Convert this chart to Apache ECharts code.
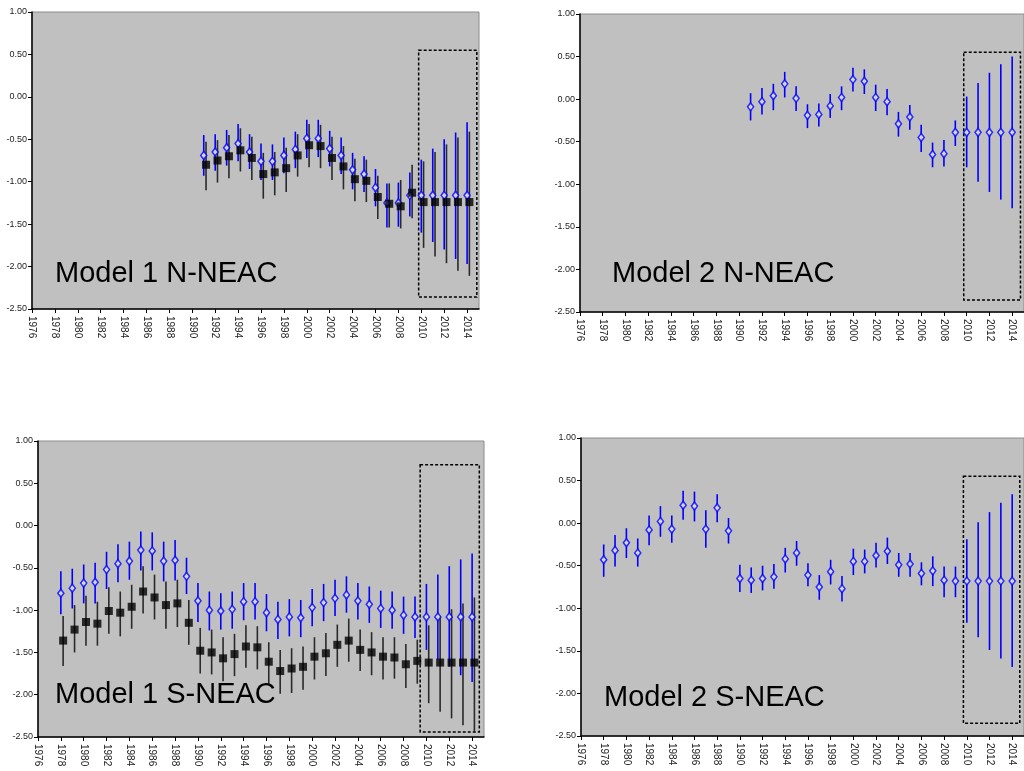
<!DOCTYPE html>
<html>
<head>
<meta charset="utf-8">
<script src="https://cdn.jsdelivr.net/npm/echarts@6/dist/echarts.min.js"></script>
<style>
  html, body { margin: 0; padding: 0; background: #ffffff; }
  #chart { width: 1024px; height: 771px; }
</style>
</head>
<body>
<div id="chart"></div>
<script>
// Axis ticks shared by all four panels
const tickYears = [1976, 1978, 1980, 1982, 1984, 1986, 1988, 1990, 1992, 1994, 1996, 1998,
  2000, 2002, 2004, 2006, 2008, 2010, 2012, 2014];
const yTickValues = [1.0, 0.5, 0.0, -0.5, -1.0, -1.5, -2.0, -2.5];

// Model 1 N-NEAC (1991-2014): blue estimate and black estimate with intervals
const m1nYears = [1991, 1992, 1993, 1994, 1995, 1996, 1997, 1998, 1999, 2000, 2001, 2002,
  2003, 2004, 2005, 2006, 2007, 2008, 2009, 2010, 2011, 2012, 2013, 2014];
const m1nBlueMid = [-0.69, -0.65, -0.60, -0.55, -0.65, -0.76, -0.76, -0.69, -0.62, -0.49, -0.49, -0.61,
  -0.69, -0.86, -0.91, -1.07, -1.25, -1.25, -1.16, -1.16, -1.16, -1.16, -1.16, -1.16];
const m1nBlueHi = [-0.45, -0.44, -0.39, -0.32, -0.44, -0.55, -0.56, -0.48, -0.41, -0.27, -0.27, -0.40,
  -0.48, -0.66, -0.70, -0.85, -1.02, -1.01, -0.89, -0.74, -0.61, -0.50, -0.42, -0.30];
const m1nBlueLo = [-0.93, -0.87, -0.81, -0.76, -0.85, -0.98, -0.98, -0.90, -0.84, -0.72, -0.71, -0.82,
  -0.91, -1.09, -1.12, -1.29, -1.54, -1.53, -1.41, -1.60, -1.71, -1.80, -1.91, -1.97];
const m1nBlackMid = [-0.80, -0.75, -0.70, -0.63, -0.72, -0.91, -0.89, -0.84, -0.69, -0.57, -0.58, -0.72,
  -0.82, -0.97, -0.99, -1.18, -1.26, -1.29, -1.13, -1.24, -1.24, -1.24, -1.24, -1.24];
const m1nBlackHi = [-0.53, -0.51, -0.45, -0.37, -0.47, -0.66, -0.65, -0.60, -0.44, -0.32, -0.33, -0.47,
  -0.58, -0.73, -0.74, -0.93, -1.02, -0.98, -0.80, -0.76, -0.65, -0.56, -0.48, -0.41];
const m1nBlackLo = [-1.10, -1.01, -0.96, -0.88, -0.98, -1.20, -1.16, -1.12, -0.94, -0.83, -0.84, -0.98,
  -1.09, -1.23, -1.24, -1.44, -1.54, -1.55, -1.43, -1.78, -1.88, -1.96, -2.05, -2.11];

// Model 2 N-NEAC (1991-2014)
const m2nYears = m1nYears;
const m2nMid = [-0.09, -0.03, 0.04, 0.18, 0.01, -0.19, -0.18, -0.08, 0.02, 0.23, 0.21, 0.02,
  -0.03, -0.29, -0.21, -0.45, -0.65, -0.64, -0.39, -0.39, -0.39, -0.39, -0.39, -0.39];
const m2nHi = [0.07, 0.13, 0.18, 0.32, 0.15, -0.06, -0.05, 0.06, 0.15, 0.37, 0.35, 0.17,
  0.12, -0.15, -0.07, -0.30, -0.51, -0.48, -0.25, 0.03, 0.19, 0.31, 0.41, 0.50];
const m2nLo = [-0.25, -0.18, -0.13, 0.02, -0.14, -0.34, -0.32, -0.22, -0.13, 0.09, 0.06, -0.14,
  -0.19, -0.44, -0.36, -0.62, -0.80, -0.79, -0.55, -0.80, -0.97, -1.09, -1.18, -1.28];

// Model 1 S-NEAC (1978-2014)
const sYears = [1978, 1979, 1980, 1981, 1982, 1983, 1984, 1985, 1986, 1987, 1988, 1989,
  1990, 1991, 1992, 1993, 1994, 1995, 1996, 1997, 1998, 1999,
  2000, 2001, 2002, 2003, 2004, 2005, 2006, 2007, 2008, 2009,
  2010, 2011, 2012, 2013, 2014];
const m1sBlueMid = [-0.80, -0.74, -0.68, -0.67, -0.52, -0.45, -0.42, -0.29, -0.30, -0.42, -0.41, -0.60,
  -0.89, -1.00, -1.01, -0.99, -0.90, -0.90, -1.03, -1.11, -1.08, -1.09,
  -0.97, -0.91, -0.86, -0.82, -0.89, -0.93, -0.98, -1.00, -1.06, -1.08,
  -1.08, -1.08, -1.08, -1.08, -1.08];
const m1sBlueHi = [-0.54, -0.51, -0.46, -0.44, -0.31, -0.22, -0.19, -0.07, -0.08, -0.19, -0.17, -0.38,
  -0.68, -0.78, -0.80, -0.78, -0.68, -0.68, -0.81, -0.90, -0.87, -0.88,
  -0.75, -0.69, -0.64, -0.60, -0.68, -0.72, -0.77, -0.78, -0.84, -0.84,
  -0.69, -0.58, -0.48, -0.40, -0.33];
const m1sBlueLo = [-1.05, -0.98, -0.92, -0.92, -0.75, -0.67, -0.64, -0.53, -0.53, -0.66, -0.65, -0.81,
  -1.14, -1.24, -1.23, -1.22, -1.12, -1.11, -1.25, -1.34, -1.31, -1.32,
  -1.19, -1.13, -1.07, -1.03, -1.11, -1.15, -1.21, -1.22, -1.28, -1.33,
  -1.47, -1.58, -1.67, -1.77, -1.85];
const m1sBlackMid = [-1.36, -1.23, -1.14, -1.16, -1.01, -1.03, -0.96, -0.78, -0.85, -0.94, -0.92, -1.15,
  -1.48, -1.50, -1.57, -1.52, -1.43, -1.44, -1.61, -1.72, -1.69, -1.67,
  -1.55, -1.51, -1.41, -1.36, -1.47, -1.50, -1.55, -1.56, -1.64, -1.60,
  -1.62, -1.62, -1.62, -1.62, -1.62];
const m1sBlackHi = [-1.07, -0.94, -0.83, -0.90, -0.73, -0.78, -0.70, -0.48, -0.58, -0.66, -0.64, -0.88,
  -1.21, -1.23, -1.32, -1.28, -1.18, -1.19, -1.38, -1.47, -1.45, -1.43,
  -1.32, -1.27, -1.17, -1.10, -1.23, -1.26, -1.32, -1.32, -1.40, -1.35,
  -1.18, -1.07, -0.99, -0.92, -0.85];
const m1sBlackLo = [-1.66, -1.50, -1.42, -1.42, -1.28, -1.31, -1.22, -1.04, -1.11, -1.22, -1.20, -1.41,
  -1.75, -1.76, -1.84, -1.78, -1.68, -1.70, -1.87, -1.99, -1.98, -1.94,
  -1.82, -1.78, -1.67, -1.61, -1.72, -1.77, -1.82, -1.81, -1.92, -1.87,
  -2.10, -2.20, -2.28, -2.36, -2.45];

// Model 2 S-NEAC (1978-2014)
const m2sMid = [-0.43, -0.32, -0.23, -0.35, -0.08, 0.02, -0.07, 0.21, 0.20, -0.07, 0.18, -0.09,
  -0.65, -0.67, -0.65, -0.63, -0.42, -0.35, -0.61, -0.75, -0.57, -0.77,
  -0.45, -0.45, -0.38, -0.33, -0.49, -0.48, -0.59, -0.56, -0.67, -0.68,
  -0.68, -0.68, -0.68, -0.68, -0.68];
const m2sHi = [-0.25, -0.14, -0.06, -0.18, 0.09, 0.20, 0.09, 0.38, 0.37, 0.15, 0.34, 0.06,
  -0.49, -0.52, -0.50, -0.48, -0.29, -0.21, -0.47, -0.61, -0.43, -0.62,
  -0.30, -0.31, -0.23, -0.17, -0.35, -0.35, -0.46, -0.39, -0.51, -0.51,
  -0.19, 0.01, 0.13, 0.24, 0.34];
const m2sLo = [-0.63, -0.51, -0.41, -0.51, -0.26, -0.16, -0.23, 0.04, 0.02, -0.29, 0.01, -0.24,
  -0.81, -0.82, -0.79, -0.77, -0.58, -0.50, -0.74, -0.90, -0.72, -0.92,
  -0.61, -0.59, -0.52, -0.48, -0.63, -0.63, -0.73, -0.74, -0.87, -0.87,
  -1.17, -1.34, -1.49, -1.59, -1.69];

// Projection windows (years, values) outlined with a dashed box
const m1nWindow = [[2009.77, 0.55], [2014.85, -2.36]];
const m2nWindow = [[2009.74, 0.55], [2014.73, -2.36]];
const m1sWindow = [[2009.45, 0.72], [2014.63, -2.44]];
const m2sWindow = [[2009.70, 0.55], [2014.67, -2.35]];

const panelTitles = ['Model 1 N-NEAC', 'Model 2 N-NEAC', 'Model 1 S-NEAC', 'Model 2 S-NEAC'];

const BLUE = '#0000ff';
const BLACK_OFFSET = 0.2; // the black estimate sits just right of the blue one

const chart = echarts.init(document.getElementById('chart'), null, { renderer: 'canvas' });

const gridBoxes = [
  { left: 32, top: 12, width: 447, height: 297 },
  { left: 580, top: 14, width: 447, height: 298 },
  { left: 38, top: 441, width: 446, height: 296 },
  { left: 581, top: 438, width: 447, height: 298 }
];

const labelFont = '"Liberation Sans Narrow", "Arial Narrow", "Liberation Sans", Arial, sans-serif';

function intervalData(years, lo, hi, shift) {
  return years.map((y, i) => [y + shift, lo[i], hi[i]]);
}
function pointData(years, mid, shift) {
  return years.map((y, i) => [y + shift, mid[i]]);
}

function whiskerSeries(idx, data, color, width) {
  return {
    type: 'custom',
    xAxisIndex: idx, yAxisIndex: idx,
    data: data,
    encode: { x: 0, y: [1, 2] },
    silent: true,
    renderItem: function (params, api) {
      const x = api.value(0);
      const a = api.coord([x, api.value(1)]);
      const b = api.coord([x, api.value(2)]);
      return {
        type: 'line',
        shape: { x1: a[0], y1: a[1], x2: b[0], y2: b[1] },
        style: { stroke: color, lineWidth: width }
      };
    },
    z: 2
  };
}

function diamondSeries(idx, data) {
  return {
    type: 'scatter', xAxisIndex: idx, yAxisIndex: idx,
    data: data, symbol: 'diamond', symbolSize: [6, 8],
    itemStyle: { color: '#ffffff', borderColor: BLUE, borderWidth: 1.6 },
    silent: true, z: 4
  };
}

function squareSeries(idx, data) {
  return {
    type: 'scatter', xAxisIndex: idx, yAxisIndex: idx,
    data: data, symbol: 'rect', symbolSize: 8,
    itemStyle: { color: '#000000' },
    silent: true, z: 5
  };
}

function windowSeries(idx, box) {
  return {
    type: 'scatter', xAxisIndex: idx, yAxisIndex: idx, data: [], silent: true,
    markArea: {
      silent: true,
      itemStyle: { color: 'rgba(0,0,0,0)', borderColor: '#000000', borderWidth: 1.5, borderType: [3, 2] },
      data: [[{ coord: box[0] }, { coord: box[1] }]]
    },
    z: 6
  };
}

const grids = gridBoxes.map(b => Object.assign({
  show: true, backgroundColor: '#c0c0c0', borderColor: '#8c8c8c', borderWidth: 1,
  containLabel: false
}, b));

const xAxes = gridBoxes.map((b, i) => ({
  type: 'value', gridIndex: i, min: 1976, max: 2015.04, interval: 2,
  splitLine: { show: false },
  axisLine: { show: true, onZero: false, lineStyle: { color: '#000000', width: 1.5 } },
  axisTick: { show: true, inside: false, length: 4, lineStyle: { color: '#000000' }, customValues: tickYears },
  axisLabel: {
    rotate: -90, fontSize: 10, color: '#222222', fontFamily: labelFont, margin: 7,
    customValues: tickYears, formatter: v => String(v)
  }
}));

const yAxes = gridBoxes.map((b, i) => ({
  type: 'value', gridIndex: i, min: -2.5, max: 1, interval: 0.5,
  splitLine: { show: false },
  axisLine: { show: true, onZero: false, lineStyle: { color: '#000000', width: 1.5 } },
  axisTick: { show: true, inside: false, length: 4, lineStyle: { color: '#000000' }, customValues: yTickValues },
  axisLabel: {
    fontSize: 9, color: '#222222', fontFamily: labelFont, margin: 5,
    customValues: yTickValues, formatter: v => v.toFixed(2)
  }
}));

const series = [
  // Model 1 N-NEAC
  whiskerSeries(0, intervalData(m1nYears, m1nBlueLo, m1nBlueHi, 0), BLUE, 1.6),
  whiskerSeries(0, intervalData(m1nYears, m1nBlackLo, m1nBlackHi, BLACK_OFFSET), '#2a2a2a', 1.6),
  diamondSeries(0, pointData(m1nYears, m1nBlueMid, 0)),
  squareSeries(0, pointData(m1nYears, m1nBlackMid, BLACK_OFFSET)),
  windowSeries(0, m1nWindow),
  // Model 2 N-NEAC
  whiskerSeries(1, intervalData(m2nYears, m2nLo, m2nHi, 0), BLUE, 1.6),
  diamondSeries(1, pointData(m2nYears, m2nMid, 0)),
  windowSeries(1, m2nWindow),
  // Model 1 S-NEAC
  whiskerSeries(2, intervalData(sYears, m1sBlueLo, m1sBlueHi, 0), BLUE, 1.6),
  whiskerSeries(2, intervalData(sYears, m1sBlackLo, m1sBlackHi, BLACK_OFFSET), '#2a2a2a', 1.6),
  diamondSeries(2, pointData(sYears, m1sBlueMid, 0)),
  squareSeries(2, pointData(sYears, m1sBlackMid, BLACK_OFFSET)),
  windowSeries(2, m1sWindow),
  // Model 2 S-NEAC
  whiskerSeries(3, intervalData(sYears, m2sLo, m2sHi, 0), BLUE, 1.6),
  diamondSeries(3, pointData(sYears, m2sMid, 0)),
  windowSeries(3, m2sWindow)
];

const titlePos = [
  { x: 55, y: 274 }, { x: 612, y: 274 }, { x: 55, y: 695 }, { x: 604, y: 698 }
];

const graphics = panelTitles.map((t, i) => ({
  type: 'text', x: titlePos[i].x, y: titlePos[i].y, z: 20,
  style: {
    text: t, fill: '#000000', align: 'left', verticalAlign: 'middle',
    fontSize: 29, fontFamily: 'Liberation Sans', fontWeight: 'normal'
  }
}));

chart.setOption({
  animation: false,
  backgroundColor: '#ffffff',
  grid: grids,
  xAxis: xAxes,
  yAxis: yAxes,
  series: series,
  graphic: graphics
});
</script>
</body>
</html>
